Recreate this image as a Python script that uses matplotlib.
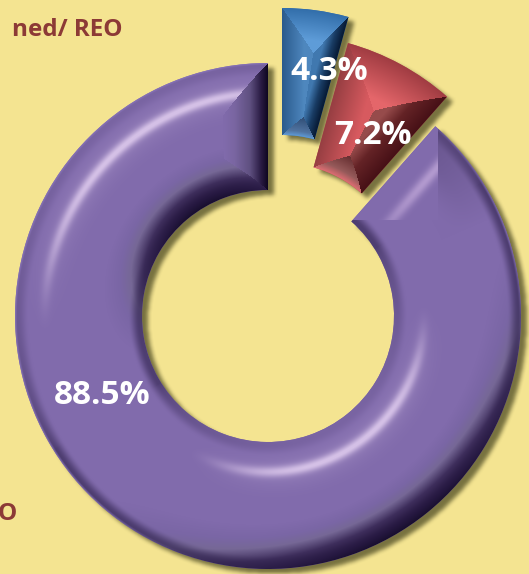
import numpy as np
import matplotlib
matplotlib.use("Agg")
import matplotlib.pyplot as plt

W, H = 529, 574
BG = "#f4e491"
plt.rcParams['font.family'] = ['Open Sans', 'DejaVu Sans']

# --- data ---------------------------------------------------------------
categories = ["Blue", "Red", "Purple"]
values = [4.3, 7.2, 88.5]
value_labels = ["4.3%", "7.2%", "88.5%"]
legend_fragments = ["ned/ REO", "O"]

# --- layout (pixels from top-left) --------------------------------------
centers_px = [(282, 257), (281, 285), (268, 316)]
outer_r = [249, 251, 253]
inner_r = [122, 122, 126]
label_px = [(329, 72), (373, 135), (102, 395)]


def ss(a, b, x):
    u = np.clip((x - a) / (b - a), 0, 1)
    return u * u * (3 - 2 * u)


def ramp(t, stops):
    xs = [s[0] for s in stops]
    out = np.zeros(t.shape + (3,))
    for k in range(3):
        out[..., k] = np.interp(t, xs, [s[1][k] for s in stops])
    return out


def mix(a, col, amt):
    col = np.asarray(col, float)
    return a * (1 - amt[..., None]) + col * amt[..., None]


def box(a, n):
    for ax_ in (0, 1):
        k = np.ones(2 * n + 1) / (2 * n + 1)
        a = np.apply_along_axis(lambda v: np.convolve(v, k, mode="same"), ax_, a)
    return a


fig = plt.figure(figsize=(W / 100, H / 100), dpi=100, facecolor=BG)
ax = fig.add_axes([0, 0, 1, 1])
wedges, _ = ax.pie(values, radius=253, startangle=90, counterclock=False,
                   colors=["#3f78b0", "#b84e50", "#806aac"],
                   wedgeprops=dict(width=127, linewidth=0))
ax.set_xlim(0, W)
ax.set_ylim(0, H)
ax.set_aspect("equal")
ax.axis("off")

px = np.arange(W) + 0.5
py = np.arange(H) + 0.5
X, PY = np.meshgrid(px, py)
Y = H - PY


def polar(i):
    cx, cy = centers_px[i]
    dx, dy = X - cx, (H - cy) - Y
    dy = -dy
    r = np.hypot(dx, dy)
    th = np.degrees(np.arctan2(dx, dy)) % 360
    return dx, dy, r, th


def span(w):
    a = (90 - w.theta2) % 360
    b = a + (w.theta2 - w.theta1)
    return a, b


def facets(i, a, b, widths, stops):
    dx, dy, r, th = polar(i)
    th = np.where(th < a - 20, th + 360, th)
    r0, r1 = inner_r[i], outer_r[i]
    d = np.stack([(r1 - r) / widths[0], (r - r0) / widths[1],
                  r * np.radians(th - a) / widths[2],
                  r * np.radians(b - th) / widths[3]])
    f = np.argmin(d, axis=0)
    t = np.clip(np.min(d, axis=0), 0, 1)
    img = np.zeros(X.shape + (3,))
    for k in range(4):
        img[f == k] = ramp(t, stops[k])[f == k]
    return img


def blue_img(a, b):
    return facets(0, a, b, (30, 20, 22, 17), [
        [(0, (50, 110, 170)), (1, (94, 156, 216))],
        [(0, (95, 155, 215)), (.25, (80, 115, 160)), (1, (45, 75, 115))],
        [(0, (42, 90, 140)), (1, (78, 135, 190))],
        [(0, (6, 24, 50)), (.5, (25, 60, 100)), (1, (64, 120, 175))]])


def red_img(a, b):
    return facets(1, a, b, (42, 26, 34, 36), [
        [(0, (160, 60, 66)), (1, (228, 102, 106))],
        [(0, (222, 110, 115)), (.3, (150, 90, 90)), (1, (95, 40, 42))],
        [(0, (150, 62, 66)), (1, (215, 90, 95))],
        [(0, (70, 16, 22)), (.6, (100, 35, 38)), (1, (150, 75, 75))]])


def purple_img(a, b):
    dx, dy, r, th = polar(2)
    r0, r1 = inner_r[2], outer_r[2]
    t = 2 * (r - r0) / (r1 - r0) - 1
    c = np.cos(np.radians(th - 328))
    s = t * c
    B = (129, 107, 172)
    img = ramp(s, [(-1, (14, 6, 32)), (-.88, (36, 22, 62)), (-.72, (62, 46, 92)),
                   (-.55, (118, 104, 150)), (-.42, (122, 102, 165)), (-.25, B), (1, B)])
    rim = ss(.78, .96, np.abs(t)) * (1 - .85 * np.clip(s, 0, 1) ** .5) * .6
    rim = rim * (1 - .5 * ss(-.5, -1, s))
    img = mix(img, (45, 32, 75), rim)
    edge = ss(.96, 1.0, t) * (1 - ss(-.2, -.7, s)) * .7
    img = mix(img, (140, 120, 190), edge)
    lit = ss(.45, 1, np.abs(c)) * (s > 0)
    hl = np.exp(-((np.abs(t) - .53) / .085) ** 2) * lit * .85
    glow = np.exp(-((np.abs(t) - .53) / .25) ** 2) * lit * .18
    img = mix(img, (212, 192, 230), np.clip(hl + glow, 0, 1))

    # dark bevel at the closing end of the ring
    de = r * np.radians(b - th)
    reg = (de < 45) & (de < (r1 - r) * .95) & (de < (r - r0) * 1.2)
    endc = ramp(np.clip(de / 45, 0, 1), [(0, (14, 6, 32)), (.15, (40, 26, 66)),
                                         (.4, (95, 80, 128)), (.75, (122, 102, 162)),
                                         (1, B)])
    img[reg] = endc[reg]

    # lit bevel at the opening end
    ds = r * np.radians(th - a)
    side = (th - a) < 30
    fade = np.clip(1 - (th - a) / 25, 0, 1)
    img = mix(img, (70, 55, 100), .42 * fade * ss(0, .6, t) * side)
    reg2 = side & (dx < 170) & (PY < 220) & ((170 - dx) + (PY - 316 + 126) * 0 > -1) \
        & (dx + dy * -1 < 330)
    cap = np.tile(np.array(B, float), X.shape + (1,))
    cap = mix(cap, (190, 165, 215), np.exp(-((ds - 29) / 6) ** 2) * ss(70, 160, dx) * .8)
    img[reg2] = cap[reg2]
    return img


builders = [blue_img, red_img, purple_img]

# soft drop shadow, offset to the lower right
sh = np.zeros(X.shape)
for i, w in enumerate(wedges):
    a, b = span(w)
    _, _, r, th = polar(i)
    th = np.where(th < a - 20, th + 360, th)
    m = (r >= inner_r[i]) & (r <= outer_r[i]) & (th >= a) & (th <= b)
    sh = np.maximum(sh, m.astype(float))
sh = np.roll(np.roll(sh, 5, axis=0), 6, axis=1)
sh = box(box(sh, 2), 2)
rgba = np.zeros(X.shape + (4,))
rgba[..., :3] = np.array((72, 70, 32)) / 255
rgba[..., 3] = sh * .72
ax.imshow(rgba, extent=(0, W, 0, H), origin="upper", zorder=0.5, interpolation="nearest")

for i, w in enumerate(wedges):
    cx, cy = centers_px[i]
    w.set_center((cx, H - cy))
    w.set_radius(outer_r[i])
    w.set_width(outer_r[i] - inner_r[i])
    w.set_zorder(1 + i)
    a, b = span(w)
    img = builders[i](a, b)
    im = ax.imshow(np.clip(img, 0, 255).astype(np.uint8), extent=(0, W, 0, H),
                   origin="upper", zorder=1.5 + i, interpolation="nearest")
    im.set_clip_path(w)

ax.set_xlim(0, W)
ax.set_ylim(0, H)

for lab, (x, y) in zip(value_labels, label_px):
    ax.text(x, H - y, lab, color="white", fontsize=24, fontweight="bold",
            ha="center", va="center", zorder=10)

ax.text(123, H - 30, legend_fragments[0], color="#8c3a36", fontsize=17.5,
        fontweight="bold", ha="right", va="center", zorder=10)
ax.text(17, H - 514, legend_fragments[1], color="#8c3a36", fontsize=17.5,
        fontweight="bold", ha="right", va="center", zorder=10)

fig.savefig("out.png", dpi=100, facecolor=BG)
